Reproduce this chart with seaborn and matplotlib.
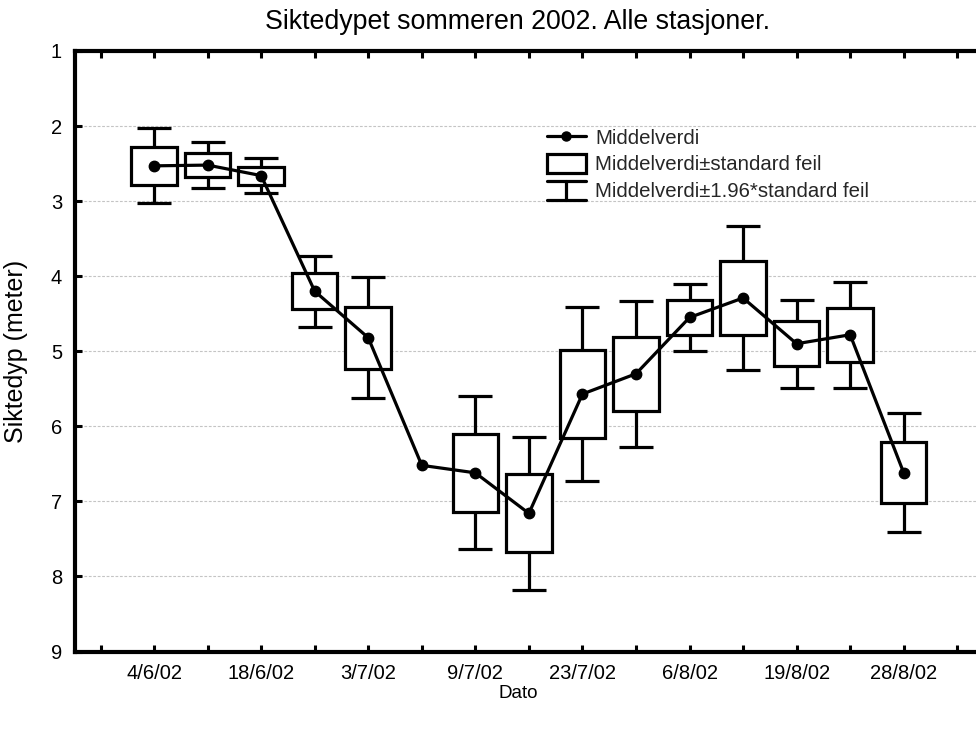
import numpy as np
import pandas as pd
import matplotlib
matplotlib.use("Agg")
import matplotlib.pyplot as plt
import seaborn as sns
from matplotlib.legend_handler import HandlerBase
from matplotlib.lines import Line2D
from matplotlib.patches import Rectangle

# Secchi depth per sampling date (all stations), mean and standard error
positions = [1, 2, 3, 4, 5, 6, 7, 8, 9, 10, 11, 12, 13, 14, 15]
mean_depth = [2.53, 2.52, 2.66, 4.20, 4.82, 6.52, 6.62, 7.16, 5.57, 5.30,
              4.55, 4.29, 4.90, 4.78, 6.62]
std_err = [0.255, 0.155, 0.12, 0.24, 0.41, 0.0, 0.52, 0.52, 0.59, 0.495,
           0.23, 0.49, 0.30, 0.36, 0.405]

tick_positions = list(range(0, 17))
label_positions = [1, 3, 5, 7, 9, 11, 13, 15]
date_labels = ["4/6/02", "18/6/02", "3/7/02", "9/7/02", "23/7/02",
               "6/8/02", "19/8/02", "28/8/02"]
y_ticks = [1, 2, 3, 4, 5, 6, 7, 8, 9]

sns.set_theme(style="white")
plt.rcParams["font.family"] = ["Liberation Sans", "DejaVu Sans"]

df = pd.DataFrame({"pos": positions, "mean": mean_depth, "se": std_err})
df["ci"] = 1.96 * df["se"]
spread = df[df["se"] > 0]

fig = plt.figure(figsize=(9.76, 7.29), dpi=100)
ax = fig.add_axes([74.5 / 976, (729 - 651.5) / 729, 1 - 74.5 / 976, 600.5 / 729])

LW = 2.3

# whiskers: mean +/- 1.96 * SE
ax.errorbar(spread["pos"], spread["mean"], yerr=spread["ci"], fmt="none",
            ecolor="black", elinewidth=LW, capsize=12.5, capthick=LW, zorder=2)
# boxes: mean +/- SE
ax.bar(spread["pos"], 2 * spread["se"], bottom=spread["mean"] - spread["se"],
       width=0.85, facecolor="white", edgecolor="black", linewidth=LW, zorder=3)
# mean line
sns.lineplot(data=df, x="pos", y="mean", ax=ax, color="black", linewidth=LW,
             marker="o", markersize=7.5, markeredgecolor="black",
             markeredgewidth=1, zorder=4)

ax.set_xlim(-0.486, 16.35)
ax.set_ylim(9, 1)
ax.set_yticks(y_ticks)
ax.set_xticks(tick_positions)
ax.set_xticklabels(["" if p not in label_positions
                    else date_labels[label_positions.index(p)]
                    for p in tick_positions])
ax.tick_params(axis="both", direction="in", color="black", width=2.2,
               labelsize=14.5, labelcolor="black")
ax.tick_params(axis="x", length=5, pad=9, top=True, bottom=True)
ax.tick_params(axis="y", length=5, pad=9, left=True)

ax.grid(axis="y", color="#c4c4c4", linestyle=(0, (2.5, 1.5)), linewidth=0.8)
ax.grid(axis="x", visible=False)
ax.set_axisbelow(True)

for side in ["left", "top", "bottom"]:
    ax.spines[side].set_linewidth(3)
    ax.spines[side].set_color("black")
ax.spines["right"].set_visible(False)

ax.set_xlabel("Dato", fontsize=13.5, color="black")
ax.xaxis.label.set_va("center")
ax.xaxis.set_label_coords((518 - 74.5) / 901.5, (651.5 - 694) / 600.5)
ax.set_ylabel("Siktedyp (meter)", fontsize=18, color="black")
ax.yaxis.label.set_va("center")
ax.yaxis.set_label_coords((16 - 74.5) / 901.5, 0.5)

fig.text(518 / 976, 1 - 22 / 729, "Siktedypet sommeren 2002. Alle stasjoner.",
         ha="center", va="center", fontsize=19.3, color="black")


class Whisker:
    pass


class WhiskerHandler(HandlerBase):
    def create_artists(self, legend, orig_handle, xdescent, ydescent,
                       width, height, fontsize, trans):
        x0, x1 = -xdescent, width - xdescent
        y0, y1 = -ydescent, height - ydescent
        cx = (x0 + x1) / 2
        parts = [Line2D([cx, cx], [y0, y1]), Line2D([x0, x1], [y0, y0]),
                 Line2D([x0, x1], [y1, y1])]
        for p in parts:
            p.set_color("black")
            p.set_linewidth(LW)
            p.set_transform(trans)
        return parts


h_mean = Line2D([], [], color="black", linewidth=LW, marker="o",
                markersize=6.5, markeredgecolor="black")
h_box = Rectangle((0, 0), 1, 1, facecolor="white", edgecolor="black",
                  linewidth=LW)
h_whisk = Whisker()
ax.legend([h_mean, h_box, h_whisk],
          ["Middelverdi", "Middelverdi\u00b1standard feil",
           "Middelverdi\u00b11.96*standard feil"],
          handler_map={Whisker: WhiskerHandler()},
          loc="upper left",
          bbox_to_anchor=((547 - 74.5) / 901.5, (651.5 - 127.5) / 600.5),
          frameon=False, fontsize=14.7, handlelength=1.9, handleheight=1.05,
          handletextpad=0.45, labelspacing=0.3, borderpad=0, borderaxespad=0)

fig.savefig("out.png", dpi=100)
